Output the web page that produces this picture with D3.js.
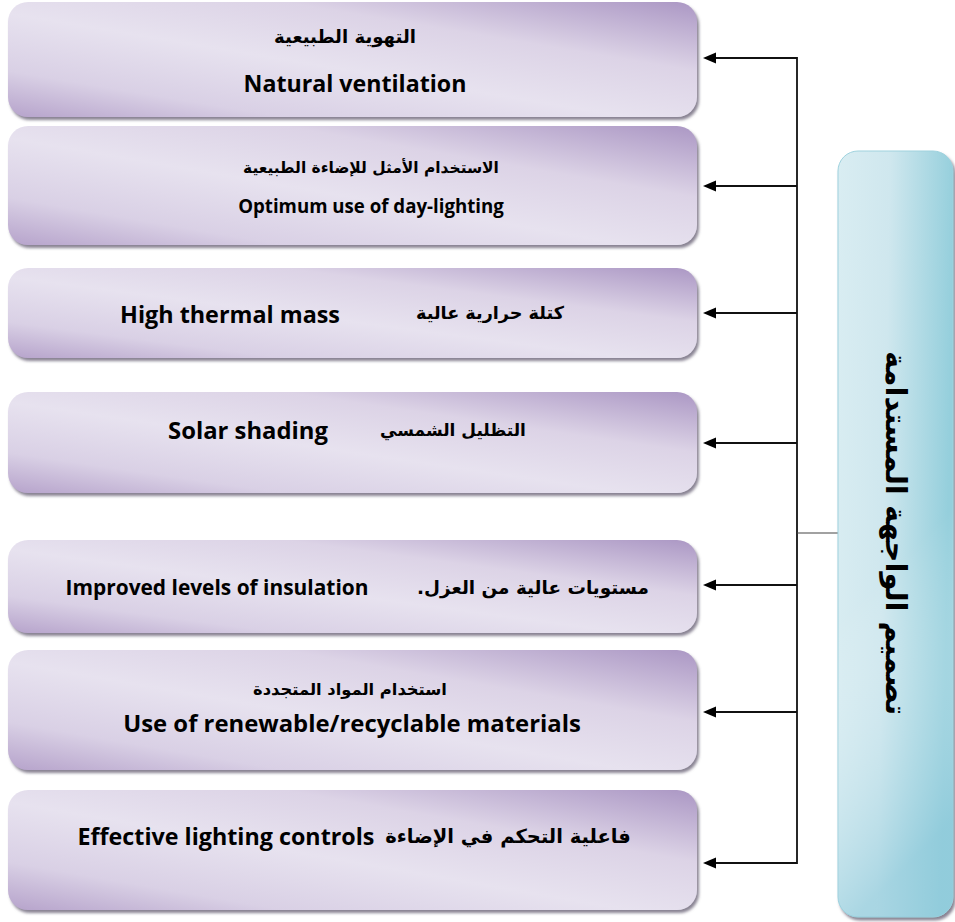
<!DOCTYPE html>
<html>
<head>
<meta charset="utf-8">
<script src="https://cdn.jsdelivr.net/npm/d3@7/dist/d3.min.js"></script>
<style>
html,body{margin:0;padding:0;background:#fff;}
svg{display:block;}
</style>
</head>
<body>
<svg id="chart" width="955" height="922"></svg>
<script>
// ---- data ----
const title = "تصميم الواجهة المستدامة";
const arabicLabels = [
  "التهوية الطبيعية",
  "الاستخدام الأمثل للإضاءة الطبيعية",
  "كتلة حرارية عالية",
  "التظليل الشمسي",
  "مستويات عالية من العزل.",
  "استخدام المواد المتجددة",
  "فاعلية التحكم في الإضاءة"
];
const englishLabels = [
  "Natural ventilation",
  "Optimum use of day-lighting",
  "High thermal mass",
  "Solar shading",
  "Improved levels of insulation",
  "Use of renewable/recyclable materials",
  "Effective lighting controls"
];

// ---- layout (geometry only) ----
const boxTop    = [2, 126, 268, 392, 540, 650, 790];
const boxBottom = [117, 245, 358, 493, 633, 770, 910];
const arrowY    = [58, 186, 313, 443, 585, 712, 863];
const arY  = [36, 168, 313, 430, 587, 689, 836];
const enY  = [83, 205, 314, 430, 587, 722, 836];
const arX  = [345, 371, 490, 453, 533, 350, 508];
const enX  = [355, 371, 230, 248, 217, 352, 226];
const enW  = [223, 266, 220, 160, 303, 458, 297];
const arW  = [142, 256, 148, 146, 232, 194, 246];

const svg = d3.select("#chart");
const defs = svg.append("defs");

const pg = defs.append("linearGradient").attr("id","purple")
  .attr("x1","0").attr("y1","1").attr("x2","1").attr("y2","0");
[[0,"#b6a3cb"],[0.2,"#d9d0e5"],[0.45,"#e7e2ef"],[0.7,"#dcd3e6"],[1,"#ab97c4"]]
  .forEach(([o,c])=>pg.append("stop").attr("offset",o).attr("stop-color",c));

const tg = defs.append("linearGradient").attr("id","teal")
  .attr("x1","0").attr("y1","0").attr("x2","1").attr("y2","0.12");
[[0,"#d9edf2"],[0.45,"#cfe7ee"],[1,"#95cfdc"]]
  .forEach(([o,c])=>tg.append("stop").attr("offset",o).attr("stop-color",c));

const tg2 = defs.append("linearGradient").attr("id","teal2")
  .attr("x1","0").attr("y1","0").attr("x2","0.15").attr("y2","1");
[[0,"#ffffff",0],[0.6,"#ffffff",0],[1,"#8fcadb",0.6]]
  .forEach(([o,c,a])=>tg2.append("stop").attr("offset",o).attr("stop-color",c).attr("stop-opacity",a));

const sh = defs.append("filter").attr("id","shadow").attr("x","-5%").attr("y","-10%").attr("width","110%").attr("height","125%");
sh.append("feDropShadow").attr("dx",2).attr("dy",3).attr("stdDeviation",1.6)
  .attr("flood-color","#6b6478").attr("flood-opacity",0.8);

const boxX0 = 8, boxX1 = 697, trunkX = 797, tipX = 703;
const tealX0 = 838, tealX1 = 953, tealY0 = 151, tealY1 = 917, connY = 533;

const idx = d3.range(englishLabels.length);

// boxes
svg.append("g").selectAll("rect").data(idx).join("rect")
  .attr("x", boxX0).attr("y", i=>boxTop[i])
  .attr("width", boxX1-boxX0).attr("height", i=>boxBottom[i]-boxTop[i])
  .attr("rx", 20).attr("ry", 20)
  .attr("fill","url(#purple)").attr("filter","url(#shadow)");

// connectors
const lines = svg.append("g").attr("stroke","#111").attr("fill","none");
lines.append("line").attr("x1",trunkX).attr("x2",trunkX)
  .attr("y1",d3.min(arrowY)-1).attr("y2",d3.max(arrowY)+1).attr("stroke-width",1.8);
lines.selectAll("line.arr").data(idx).join("line").attr("class","arr")
  .attr("x1",trunkX).attr("x2",tipX+10).attr("y1",i=>arrowY[i]).attr("y2",i=>arrowY[i])
  .attr("stroke-width",2);
lines.append("line").attr("x1",trunkX).attr("x2",tealX0).attr("y1",connY).attr("y2",connY)
  .attr("stroke","#444").attr("stroke-width",1.2);
svg.append("g").selectAll("path").data(idx).join("path")
  .attr("d", i=>`M${tipX},${arrowY[i]} L${tipX+13},${arrowY[i]-5.5} L${tipX+13},${arrowY[i]+5.5} Z`)
  .attr("fill","#000");

// teal box
svg.append("rect").attr("x",tealX0).attr("y",tealY0).attr("width",tealX1-tealX0).attr("height",tealY1-tealY0)
  .attr("rx",20).attr("fill","url(#teal)").attr("stroke","#9fd2de").attr("stroke-width",1)
  .attr("filter","url(#shadow)");
svg.append("rect").attr("x",tealX0).attr("y",tealY0).attr("width",tealX1-tealX0).attr("height",tealY1-tealY0)
  .attr("rx",20).attr("fill","url(#teal2)");

svg.append("text")
  .attr("transform",`translate(${(tealX0+tealX1)/2},${connY}) rotate(90)`)
  .attr("text-anchor","middle").attr("dominant-baseline","central")
  .attr("font-family","'DejaVu Sans', sans-serif").attr("font-weight","bold")
  .attr("font-size",29).attr("fill","#000").text(title);

// labels
const enFont = "'Open Sans', Lato, sans-serif";
const arFont = "'DejaVu Sans', 'Noto Sans', sans-serif";
const lbl = svg.append("g").attr("fill","#000").attr("font-weight","bold")
  .attr("dominant-baseline","central");

function fit(sel, widths, base){
  sel.each(function(i){
    const w = this.getComputedTextLength();
    d3.select(this).attr("font-size", base*widths[i]/w);
  });
}
const ar = lbl.selectAll("text.ar").data(idx).join("text").attr("class","ar")
  .attr("x",i=>arX[i]).attr("y",i=>arY[i]).attr("text-anchor","middle")
  .attr("font-family",arFont).attr("font-size",16).attr("direction","rtl")
  .text(i=>arabicLabels[i]);
fit(ar, arW, 16);
const en = lbl.selectAll("text.en").data(idx).join("text").attr("class","en")
  .attr("x",i=>enX[i]).attr("y",i=>enY[i]).attr("text-anchor","middle")
  .attr("font-family",enFont).attr("font-size",20)
  .text(i=>englishLabels[i]);
fit(en, enW, 20);
</script>
</body>
</html>
